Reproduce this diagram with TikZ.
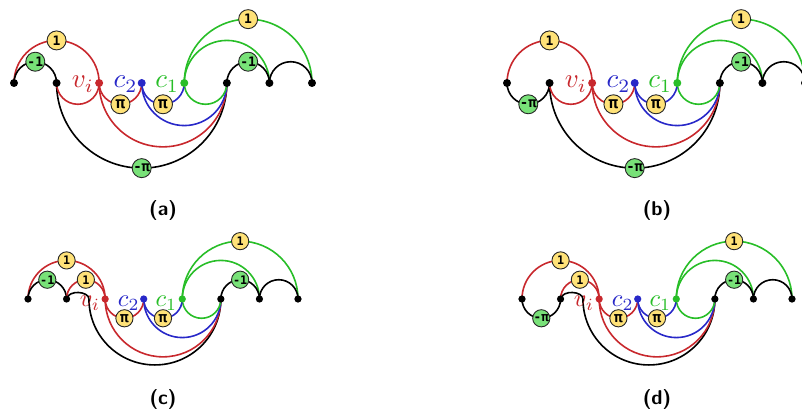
\documentclass[tikz,border=0pt]{standalone}
\usepackage{fontspec}
\newfontfamily\lblfont{DejaVu Sans Mono}
\usetikzlibrary{backgrounds}
\definecolor{zred}{RGB}{200,40,45}
\definecolor{zblue}{RGB}{40,40,200}
\definecolor{zgreen}{RGB}{40,190,40}
\definecolor{zyel}{RGB}{255,226,120}
\definecolor{zgrn}{RGB}{120,225,120}
\newcommand\zpi{{\fontsize{16}{16}\selectfont π}}
\newcommand\zmpi{{\fontsize{14}{14}\selectfont -π}}
\newcommand\zmone{-1}
\tikzset{
 dot/.style={circle, fill=black, inner sep=0pt, minimum size=8pt},
 lbl/.style={circle, draw=black!85, line width=0.9pt, inner sep=0pt, minimum size=19pt, font=\lblfont\bfseries\fontsize{13}{13}\selectfont},
 yel/.style={lbl, fill=zyel},
 grn/.style={lbl, fill=zgrn},
 wire/.style={line width=1.6pt},
 uparc/.style n args={3}{insert path={(#1.center) to[out=90,in=180] (#2.center) to[out=0,in=90] (#3.center)}},
 dnarc/.style n args={3}{insert path={(#1.center) to[out=-90,in=180] (#2.center) to[out=0,in=-90] (#3.center)}},
 vlab/.style={anchor=base east, inner sep=0pt},
 captext/.style={font=\sffamily\bfseries\fontsize{20}{24}\selectfont},
}
\newcommand\zxnodes[1]{%
 \node[dot] (n0) at (0,0) {};
 \node[dot] (n1) at (1,0) {};
 \node[dot,fill=zred] (v) at (2,0) {};
 \node[dot,fill=zblue] (c2) at (3,0) {};
 \node[dot,fill=zgreen] (c1) at (4,0) {};
 \node[dot] (n5) at (5,0) {};
 \node[dot] (n6) at (6,0) {};
 \node[dot] (n7) at (7,0) {};
 \node[vlab, text=zred] (lv) at ([xshift=-5pt,yshift=-#1]v.center) {\scalebox{2.7}{$v_i$}};
 \node[vlab, text=zblue] (lc2) at ([xshift=-4pt,yshift=-#1]c2.center) {\scalebox{2.7}{$c_2$}};
 \node[vlab, text=zgreen] (lc1) at ([xshift=-5pt,yshift=-#1]c1.center) {\scalebox{2.7}{$c_1$}};
 \node[yel] (p1) at (2.5,-0.5) {\zpi};
 \node[yel] (p2) at (3.5,-0.5) {\zpi};
 \node[grn] (m2) at (5.5,0.5) {\zmone};
 \node[yel] (o1) at (1,1) {1};
 \node[yel] (o2) at (5.5,1.5) {1};
 \coordinate (t1) at (4.5,-0.5);
 \coordinate (t2) at (4,-1);
 \coordinate (t3) at (3.5,-1.5);
 \coordinate (t4) at (6.5,0.5);
 \coordinate (t5) at (5,1);
}
\newcommand\zxarcs{%
 \draw[wire, zred, dnarc={v}{t3}{n5}];
 \draw[wire, zblue, dnarc={c2}{t2}{n5}];
 \draw[wire, zgreen, dnarc={c1}{t1}{n5}];
 \draw[wire, zred, dnarc={v}{p1}{c2}];
 \draw[wire, zblue, dnarc={c2}{p2}{c1}];
 \draw[wire, zred, uparc={n0}{o1}{v}];
 \draw[wire, zgreen, uparc={c1}{t5}{n6}];
 \draw[wire, zgreen, uparc={c1}{o2}{n7}];
 \draw[wire, uparc={n5}{m2}{n6}];
 \draw[wire, uparc={n6}{t4}{n7}];
}
\begin{document}
\begin{tikzpicture}[x=1pt,y=1pt]
\useasboundingbox (0,0) rectangle (802,412);
\clip (0,0) rectangle (802,412);
% (a)
\begin{scope}[shift={(14pt,329pt)}, x=42.57pt, y=42.57pt, name prefix=a-]
 \zxnodes{5pt}
 \node[grn] (m1) at (0.5,0.5) {\zmone};
 \node[grn] (m3) at (3,-2) {\zmpi};
 \coordinate (t0) at (1.5,-0.5);
 \begin{scope}[on background layer]
  \draw[wire, dnarc={n1}{m3}{n5}];
  \zxarcs
  \draw[wire, uparc={n0}{m1}{n1}];
  \draw[wire, zred, dnarc={n1}{t0}{v}];
 \end{scope}
\end{scope}
% (b)
\begin{scope}[shift={(507pt,329pt)}, x=42.57pt, y=42.57pt, name prefix=b-]
 \zxnodes{5pt}
 \node[grn] (m1) at (0.5,-0.5) {\zmpi};
 \node[grn] (m3) at (3,-2) {\zmpi};
 \coordinate (t0) at (1.5,-0.5);
 \begin{scope}[on background layer]
  \draw[wire, dnarc={n1}{m3}{n5}];
  \zxarcs
  \draw[wire, dnarc={n0}{m1}{n1}];
  \draw[wire, zred, dnarc={n1}{t0}{v}];
 \end{scope}
\end{scope}
% (c)
\begin{scope}[shift={(28pt,113pt)}, x=38.57pt, y=38.57pt, name prefix=c-, every node/.append style={scale=0.906}]
 \zxnodes{7.5pt}
 \node[grn] (m1) at (0.5,0.5) {\zmone};
 \node[yel] (o3) at (1.5,0.5) {1};
 \coordinate (h) at (1.58,0);
 \coordinate (hb) at (3.29,-1.71);
 \begin{scope}[on background layer]
  \draw[wire] (n1.center) .. controls +(0.05,0.25) and +(0,0.2) .. (h.center) to[out=-90,in=180] (hb.center) to[out=0,in=-90] (n5.center);
  \zxarcs
  \draw[wire, uparc={n0}{m1}{n1}];
  \draw[wire, zred, uparc={n1}{o3}{v}];
 \end{scope}
\end{scope}
% (d)
\begin{scope}[shift={(522pt,113pt)}, x=38.57pt, y=38.57pt, name prefix=d-, every node/.append style={scale=0.906}]
 \zxnodes{7.5pt}
 \node[grn] (m1) at (0.5,-0.5) {\zmpi};
 \node[yel] (o3) at (1.5,0.5) {1};
 \coordinate (h) at (1.58,0);
 \coordinate (hb) at (3.29,-1.71);
 \begin{scope}[on background layer]
  \draw[wire] (n1.center) .. controls +(0.05,0.25) and +(0,0.2) .. (h.center) to[out=-90,in=180] (hb.center) to[out=0,in=-90] (n5.center);
  \zxarcs
  \draw[wire, dnarc={n0}{m1}{n1}];
  \draw[wire, zred, uparc={n1}{o3}{v}];
 \end{scope}
\end{scope}
\node[captext] (capa) at (163,201) {(a)};
\node[captext] (capb) at (657,201) {(b)};
\node[captext] (capc) at (163,13) {(c)};
\node[captext] (capd) at (657,13) {(d)};
\end{tikzpicture}
\end{document}
